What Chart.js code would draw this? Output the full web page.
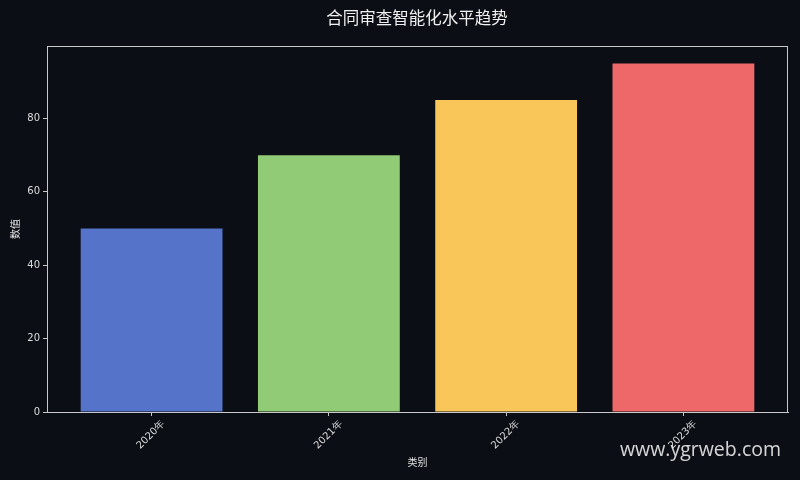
<!DOCTYPE html>
<html>
<head>
<meta charset="utf-8">
<script src="https://cdn.jsdelivr.net/npm/chart.js@4.4.0/dist/chart.umd.min.js"></script>
<style>
  html, body { margin: 0; padding: 0; background: #0b0e15; }
  #wrap { width: 800px; height: 480px; }
</style>
</head>
<body>
<div id="wrap"><canvas id="chart"></canvas></div>
<script>
// données du graphique
const categories = ["2020年", "2021年", "2022年", "2023年"];
const values = [50, 70, 85, 95];
const barColors = ["#5573c8", "#92cb75", "#f9c759", "#ee6869"];
const yTicks = [0, 20, 40, 60, 80];

const titleText = "合同审查智能化水平趋势";
const watermark = "www.ygrweb.com";

// cadre + titre + filigrane
const extras = {
  id: "extras",
  beforeDraw(chart) {
    const c = chart.ctx;
    c.save();
    c.fillStyle = "#0b0e15";
    c.fillRect(0, 0, chart.width, chart.height);
    c.restore();
  },
  afterDraw(chart) {
    const c = chart.ctx;
    const a = chart.chartArea;
    c.save();
    c.strokeStyle = "#c8c8c8";
    c.lineWidth = 1;
    c.strokeRect(a.left + 0.5, a.top + 0.5, a.right - a.left - 1, a.bottom - a.top);
    c.fillStyle = "#f0f0f0";
    c.font = "16.5px 'Noto Sans CJK SC'";
    c.textAlign = "center";
    c.textBaseline = "middle";
    c.fillText(titleText, 417, 18);
    c.fillStyle = "rgba(235,235,235,0.9)";
    c.font = "19.5px 'Open Sans'";
    c.textAlign = "right";
    c.textBaseline = "alphabetic";
    c.fillText(watermark, 781, 456);
    c.restore();
  }
};

const ctx = document.getElementById("chart").getContext("2d");
const myChart = new Chart(ctx, {
  type: "bar",
  data: {
    datasets: [
      {
        label: "数值",
        data: values.map((v, i) => ({ x: i, y: v })),
        backgroundColor: barColors,
        borderWidth: 0,
        categoryPercentage: 1.0,
        barPercentage: 0.8,
      },
    ],
  },
  options: {
    responsive: true,
    maintainAspectRatio: false,
    animation: false,
    layout: { padding: { top: 46, left: 0, right: 12, bottom: 0 } },
    plugins: {
      legend: { display: false },
      tooltip: { enabled: false },
      title: { display: false },
    },
    scales: {
      x: {
        type: "linear",
        min: -0.59,
        max: 3.59,
        offset: false,
        afterBuildTicks(scale) { scale.ticks = categories.map((c, i) => ({ value: i })); },
        grid: { display: true, offset: false, drawOnChartArea: false, color: "#c8c8c8", tickLength: 4 },
        border: { display: true, color: "#c8c8c8" },
        ticks: {
          color: "#dddddd",
          font: { family: "'DejaVu Sans'", size: 10 },
          minRotation: 45,
          maxRotation: 45,
          labelOffset: 12,
          padding: 2,
          callback: (v) => categories[v],
        },
        title: {
          display: true,
          text: "类别",
          color: "#e0e0e0",
          font: { family: "'Noto Sans CJK SC'", size: 10 },
          padding: { top: 0, bottom: 12 },
        },
        afterFit(scale) { scale.height = 68; },
      },
      y: {
        min: 0,
        max: 99.75,
        afterBuildTicks(scale) { scale.ticks = yTicks.map(v => ({ value: v })); },
        grid: { display: true, drawOnChartArea: false, color: "#c8c8c8", tickLength: 4 },
        border: { display: true, color: "#c8c8c8" },
        ticks: {
          color: "#dddddd",
          font: { family: "'DejaVu Sans'", size: 10 },
          padding: 3,
        },
        title: {
          display: true,
          text: "数值",
          color: "#e0e0e0",
          font: { family: "'Noto Sans CJK SC'", size: 10 },
          padding: { top: 9, bottom: 4 },
        },
        afterFit(scale) { scale.width = 47; },
      },
    },
  },
  plugins: [extras],
});
</script>
</body>
</html>
